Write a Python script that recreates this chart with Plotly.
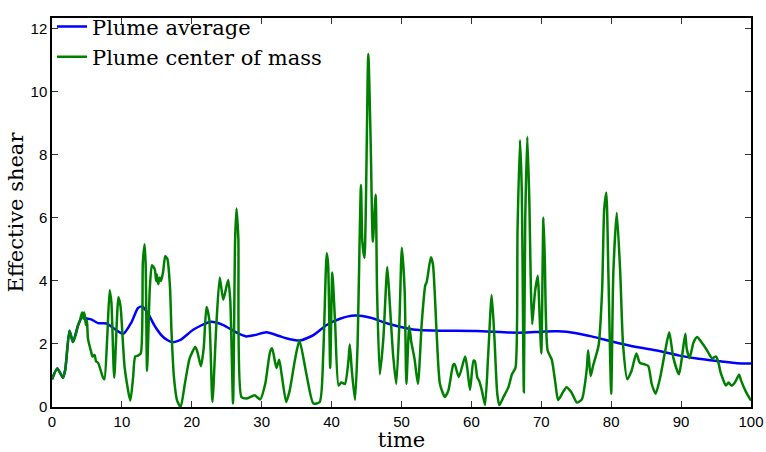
import plotly.graph_objects as go

# Plume center of mass (green)
com_time = [0, 0.76, 1.57, 1.9, 2.5, 3.0, 3.4, 3.7, 4.0, 4.3, 4.5, 4.6, 4.7, 4.85, 5.0, 5.15,
            5.6, 5.8, 6.1, 6.3, 6.6, 7.3, 7.5, 7.9, 8.25, 8.5, 8.9, 9.5, 9.8, 10.4, 11.2, 11.6,
            11.9, 12.3, 12.7, 13.0, 13.25, 13.4, 13.6, 14.0, 14.3, 14.7, 14.9, 15.0, 15.2, 15.4,
            15.6, 15.9, 16.2, 16.5, 16.88, 17.1, 17.45, 17.9, 18.4, 19.0, 19.7, 20.5, 20.8, 21.3,
            21.7, 22.1, 22.5, 22.95, 23.5, 24.0, 24.5, 25.2, 25.5, 25.9, 26.2, 26.4, 26.66, 27.1,
            27.8, 29.0, 29.8, 30.5, 31.2, 31.5, 32.1, 32.5, 32.85, 33.5, 34.0, 34.8, 35.4, 36.4,
            37.4, 38.3, 38.8, 39.3, 39.5, 39.8, 40.1, 40.5, 41.0, 41.4, 41.9, 42.4, 42.6, 42.9,
            43.35, 43.7, 44.2, 44.4, 44.7, 45.25, 45.6, 45.9, 46.3, 46.5, 46.9, 47.4, 47.97, 48.35,
            48.8, 49.25, 49.7, 50.05, 50.45, 50.7, 51.1, 51.4, 51.85, 52.35, 52.9, 53.4, 53.6, 54.2,
            54.5, 55.0, 55.5, 56.2, 56.7, 57.4, 57.6, 58.2, 59.1, 59.4, 59.8, 60.3, 60.5, 60.85,
            61.1, 61.5, 61.95, 62.4, 62.9, 63.3, 63.7, 64.0, 64.6, 65.3, 65.8, 66.3, 66.6, 66.95,
            67.2, 67.5, 67.7, 68.0, 68.3, 68.5, 68.7, 69.1, 69.5, 69.7, 70.0, 70.3, 70.5, 70.9,
            71.5, 72.0, 72.4, 73.1, 73.6, 74.3, 75.1, 75.8, 76.5, 76.7, 77.06, 77.4, 78.2, 78.7,
            79.0, 79.3, 79.6, 80.0, 80.3, 80.8, 81.3, 81.7, 82.3, 82.9, 83.6, 84.1, 84.8, 85.3,
            85.8, 86.35, 87.0, 87.7, 88.3, 88.9, 89.7, 90.1, 90.6, 90.8, 91.2, 91.8, 92.3, 92.9,
            93.7, 94.4, 95.0, 95.3, 95.6, 96.0, 96.4, 96.8, 97.2, 97.7, 98.3, 98.6, 99.3, 100]
com_shear = [0.88, 1.22, 0.93, 1.19, 2.42, 2.06, 2.3, 2.57, 2.75, 3.0, 2.8, 3.0, 2.88, 2.6, 2.75, 2.16,
             1.75, 1.6, 1.65, 1.45, 1.4, 0.93, 0.88, 2.2, 3.7, 3.3, 0.93, 3.48, 3.2, 1.24, 0.2, 0.93,
             1.6, 1.63, 1.7, 4.6, 5.16, 4.5, 1.14, 3.8, 4.5, 4.37, 4.0, 4.2, 3.9, 4.1,
             4.0, 4.3, 4.78, 4.7, 3.8, 2.37, 0.93, 0.2, 0.0, 0.73, 1.55, 1.9, 1.75, 1.29,
             1.86, 3.17, 2.78, 0.16, 2.57, 4.11, 3.4, 4.03, 3.4, 0.11, 5.34, 6.3, 5.34, 0.32,
             0.27, 0.37, 0.24, 0.73, 1.75, 1.86, 1.24, 1.5, 1.04, 0.16, 0.52, 1.55, 2.11, 1.04,
             0.11, 0.16, 1.65, 4.88, 4.52, 1.24, 4.27, 2.68, 0.68, 0.78, 0.73, 1.45, 1.98, 1.14,
             0.22, 1.86, 7.04, 5.24, 4.73, 11.2, 8.3, 5.24, 6.73, 3.7, 1.04, 2.16, 4.44, 3.19,
             1.65, 0.73, 2.68, 5.05, 3.7, 0.73, 2.57, 2.06, 1.55, 0.73, 2.68, 3.86, 3.96, 4.75,
             4.52, 2.47, 0.73, 0.32, 0.52, 1.34, 1.36, 0.95, 1.6, 1.24, 0.54, 1.47, 1.45, 0.93,
             0.83, 0.52, 0.06, 1.65, 3.55, 2.16, 0.42, 0.06, 0.32, 0.63, 1.04, 1.24, 5.6, 8.47,
             6.93, 0.47, 5.9, 8.57, 6.42, 3.86, 2.63, 3.65, 4.16, 3.24, 1.7, 6.01, 4.68, 1.8,
             1.5, 0.78, 0.22, 0.47, 0.63, 0.47, 0.14, 0.24, 1.19, 1.8, 0.98, 1.3, 1.96, 3.7,
             6.27, 6.8, 4.22, 0.42, 4.22, 6.16, 4.22, 1.96, 0.88, 1.14, 1.7, 1.4, 1.35, 1.3,
             0.73, 0.42, 0.93, 1.75, 2.37, 1.55, 1.04, 1.55, 2.32, 1.86, 1.55, 2.06, 2.22, 2.06,
             1.8, 1.55, 1.6, 1.45, 1.14, 0.88, 0.68, 0.78, 0.68, 0.78, 1.02, 0.83, 0.47, 0.2]

# Plume average (blue)
avg_time = [0, 0.76, 1.57, 1.9, 2.5, 3.0, 3.7, 4.3, 4.9, 5.6, 6.6, 7.8, 9.0, 10.2, 11.35, 12.3,
            12.9, 13.7, 14.7, 15.9, 17.1, 18.3, 20.2, 22.6, 24.5, 26.5, 27.8, 29.0, 30.7, 32.5,
            34.05, 35.5, 37.4, 39.3, 41.2, 43.35, 45.6, 48.0, 50.7, 52.5, 56.0, 60.7, 65.5, 67.7,
            70.0, 72.4, 74.8, 77.2, 80.1, 83.0, 86.3, 89.8, 92.5, 95.6, 98.0, 100]
avg_shear = [0.88, 1.22, 0.93, 1.19, 2.42, 2.06, 2.57, 2.85, 2.81, 2.78, 2.66, 2.65, 2.47, 2.32, 2.68, 3.14,
             3.19, 2.98, 2.57, 2.22, 2.06, 2.12, 2.45, 2.7, 2.6, 2.35, 2.24, 2.28, 2.37, 2.25,
             2.15, 2.11, 2.28, 2.6, 2.8, 2.9, 2.83, 2.65, 2.5, 2.44, 2.42, 2.41, 2.36, 2.36,
             2.39, 2.4, 2.35, 2.24, 2.08, 1.93, 1.8, 1.63, 1.53, 1.45, 1.39, 1.38]

x_ticks = [0, 10, 20, 30, 40, 50, 60, 70, 80, 90, 100]
y_ticks = [0, 2, 4, 6, 8, 10, 12]

serif = "DejaVu Serif"
sans = "Liberation Sans"

fig = go.Figure()
fig.add_trace(go.Scatter(
    x=avg_time, y=avg_shear, mode='lines', name='Plume average',
    line=dict(color='rgb(0,0,255)', width=2.5, shape='spline', smoothing=0.6)
))
fig.add_trace(go.Scatter(
    x=com_time, y=com_shear, mode='lines', name='Plume center of mass',
    line=dict(color='rgb(0,128,0)', width=2.5, shape='spline', smoothing=0.6)
))

axis_style = dict(
    showline=True, linecolor='black', linewidth=1.5, mirror='ticks',
    ticks='inside', ticklen=6, tickwidth=1, tickcolor='#333',
    showgrid=False, zeroline=False, automargin=False,
    tickfont=dict(family=sans, size=15, color='black')
)

fig.update_xaxes(range=[0, 100], tickvals=x_ticks,
                 title=dict(text='time', font=dict(family=serif, size=21, color='black'), standoff=6),
                 **axis_style)
fig.update_yaxes(range=[0, 12.34], tickvals=y_ticks,
                 title=dict(text='Effective shear', font=dict(family=serif, size=21, color='black'), standoff=1),
                 **axis_style)

fig.update_layout(
    width=766, height=452,
    margin=dict(l=52, r=15, t=6, b=45),
    plot_bgcolor='white', paper_bgcolor='white',
    legend=dict(x=0.0, y=1.03, xanchor='left', yanchor='top',
                font=dict(family=serif, size=21, color='black'),
                bgcolor='rgba(0,0,0,0)', tracegroupgap=0, itemwidth=30),
    showlegend=True
)

# drop the default page margin so the figure sits at the window's corner
fig.write_html("out.html", config={'displayModeBar': False},
               post_script="document.body.style.margin='0';")
